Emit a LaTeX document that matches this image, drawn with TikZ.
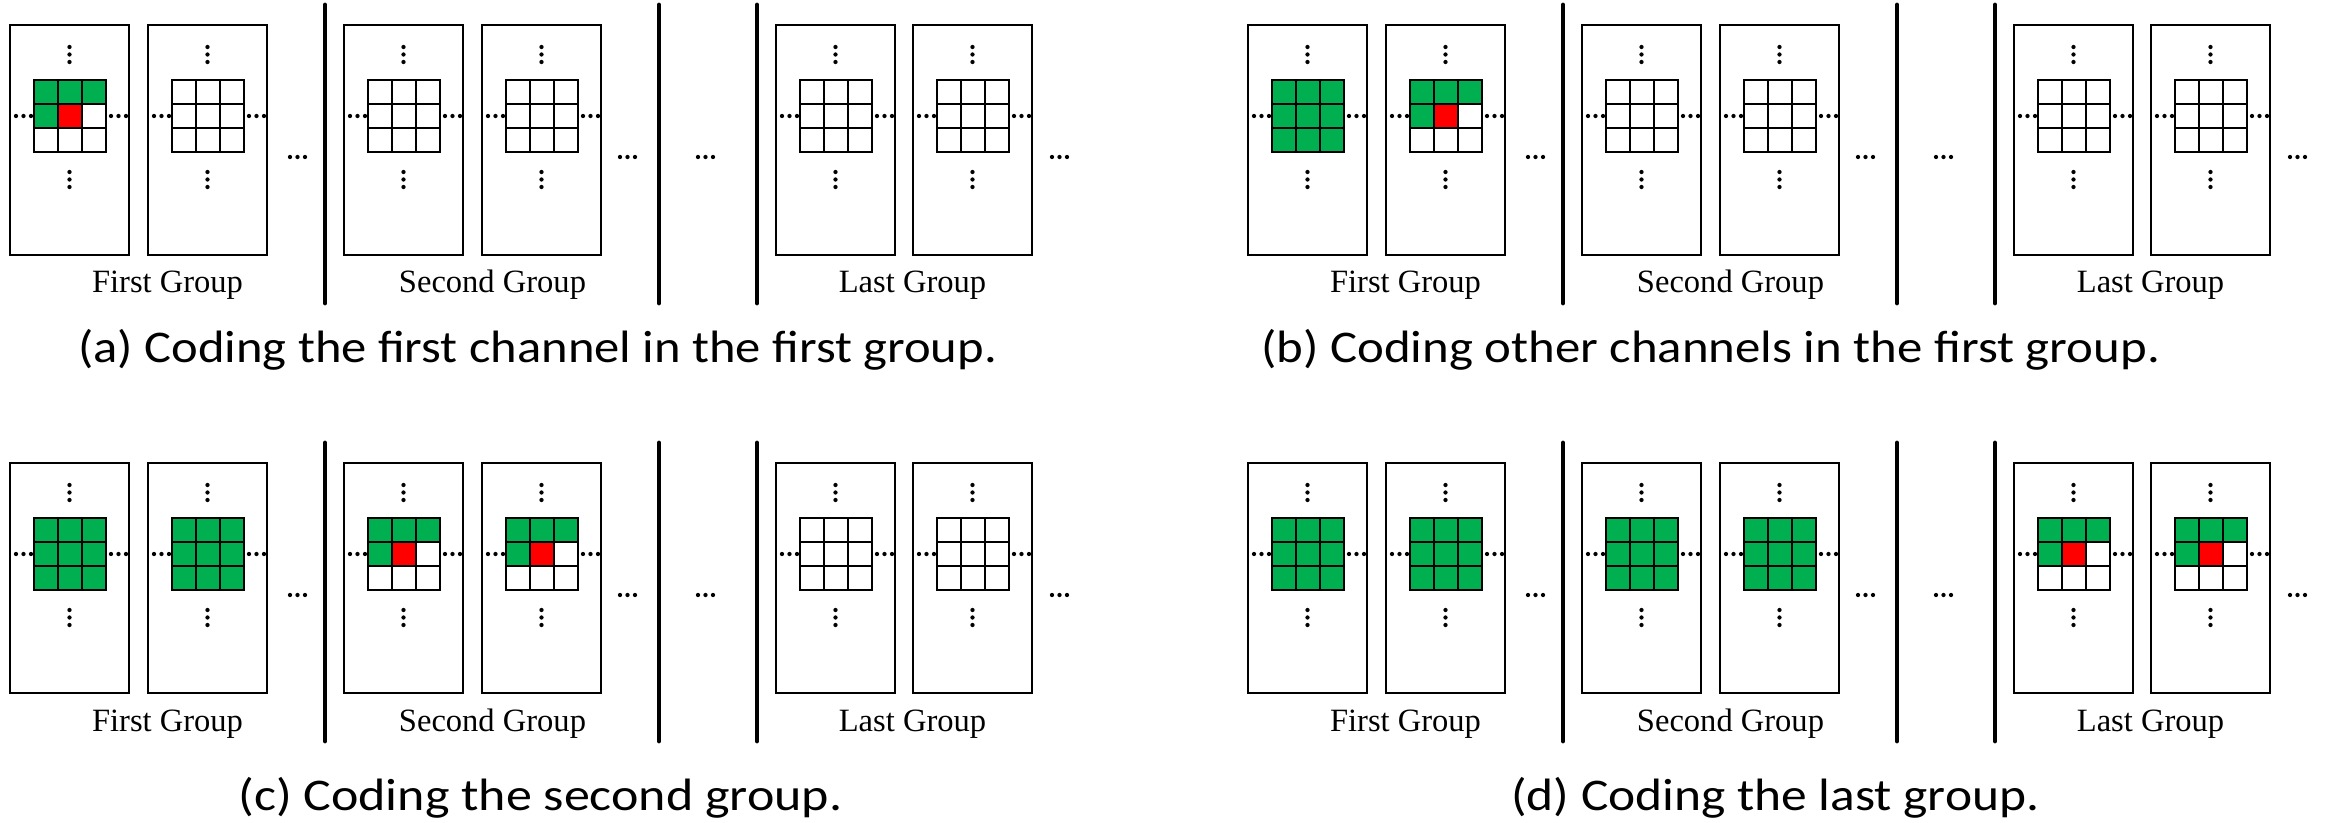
\documentclass[tikz,border=0pt]{standalone}
\usepackage{fontspec}
\setmainfont{Liberation Serif}
\newfontfamily\captfont{Carlito}
\usepackage{graphicx}
\usepackage{xcolor}
\usepackage{tikz}
\usetikzlibrary{positioning}
\definecolor{codedgreen}{RGB}{0,176,80}
\definecolor{currentred}{RGB}{255,0,0}

% one channel: left x, row offset, state (0 empty, 1 coding, 2 coded)
\newcommand{\chan}[3]{%
  \begin{scope}[shift={(#1,#2)}]
    \ifnum#3=2 \fill[codedgreen] (24,80) rectangle (96,152); \fi
    \ifnum#3=1
      \fill[codedgreen] (24,80) rectangle (96,104);
      \fill[codedgreen] (24,104) rectangle (48,128);
      \fill[currentred] (48,104) rectangle (72,128);
    \fi
    \foreach \k in {0,...,3} {
      \draw[gridline] ({24+\k*24},80) -- ({24+\k*24},152);
      \draw[gridline] (24,{80+\k*24}) -- (96,{80+\k*24});
    }
    \draw[chanbox] (0,25) rectangle (119,255);
    \foreach \d in {0,1,2} {
      \fill (59.5,{47+\d*7.5}) circle (1.6pt);
      \fill (59.5,{172+\d*7.5}) circle (1.6pt);
      \fill ({6+\d*7.5},116) circle (1.6pt);
      \fill ({101+\d*7.5},116) circle (1.6pt);
    }
  \end{scope}}

% dots between channels / groups
\newcommand{\gapdots}[2]{%
  \foreach \d in {-1,0,1} \fill ({#1+\d*7.5},{#2+157}) circle (1.6pt);}

% one panel: x offset, row offset, states of the six channels
\newcommand{\panel}[8]{%
  \chan{#1+10}{#2}{#3}
  \chan{#1+148}{#2}{#4}
  \chan{#1+344}{#2}{#5}
  \chan{#1+482}{#2}{#6}
  \chan{#1+776}{#2}{#7}
  \chan{#1+913}{#2}{#8}
  \gapdots{#1+297.5}{#2}
  \gapdots{#1+627.5}{#2}
  \gapdots{#1+705.5}{#2}
  \gapdots{#1+1059.5}{#2}
  \foreach \s in {325,659,757}
    \draw[sepline] ({#1+\s},{#2+5}) -- ({#1+\s},{#2+303});
  \node[grouplabel] (first-#1-#2) at ({#1+167.5},{#2+293}) {First Group};
  \node[grouplabel] (second-#1-#2) at ({#1+492.5},{#2+293}) {Second Group};
  \node[grouplabel] (last-#1-#2) at ({#1+912.5},{#2+293}) {Last Group};}

\begin{document}
\begin{tikzpicture}[
  x=0.75pt, y=-0.75pt,
  chanbox/.style={draw, line width=1.7pt},
  gridline/.style={line width=2pt, line cap=rect},
  sepline/.style={line width=3.6pt, line cap=round},
  grouplabel/.style={anchor=base, inner sep=0pt,
    font=\fontsize{24.4}{28}\selectfont},
  capt/.style={anchor=base west, inner sep=0pt,
    font=\captfont\fontsize{34}{40}\selectfont}
]
\useasboundingbox (0,0) rectangle (2325,823);

% (a) first channel of the first group
\panel{0}{0}{1}{0}{0}{0}{0}{0}
\node[capt] (capa) at (78,363)
  {\resizebox{689pt}{\height}{(a) Coding the first channel in the first group.}};

% (b) other channels of the first group
\panel{1238}{0}{2}{1}{0}{0}{0}{0}
\node[capt] (capb) at (1261,363)
  {\resizebox{674pt}{\height}{(b) Coding other channels in the first group.}};

% (c) second group
\panel{0}{438}{2}{2}{1}{1}{0}{0}
\node[capt] (capc) at (238,810)
  {\resizebox{453pt}{\height}{(c) Coding the second group.}};

% (d) last group
\panel{1238}{438}{2}{2}{2}{2}{1}{1}
\node[capt] (capd) at (1511,810)
  {\resizebox{396pt}{\height}{(d) Coding the last group.}};
\end{tikzpicture}
\end{document}
